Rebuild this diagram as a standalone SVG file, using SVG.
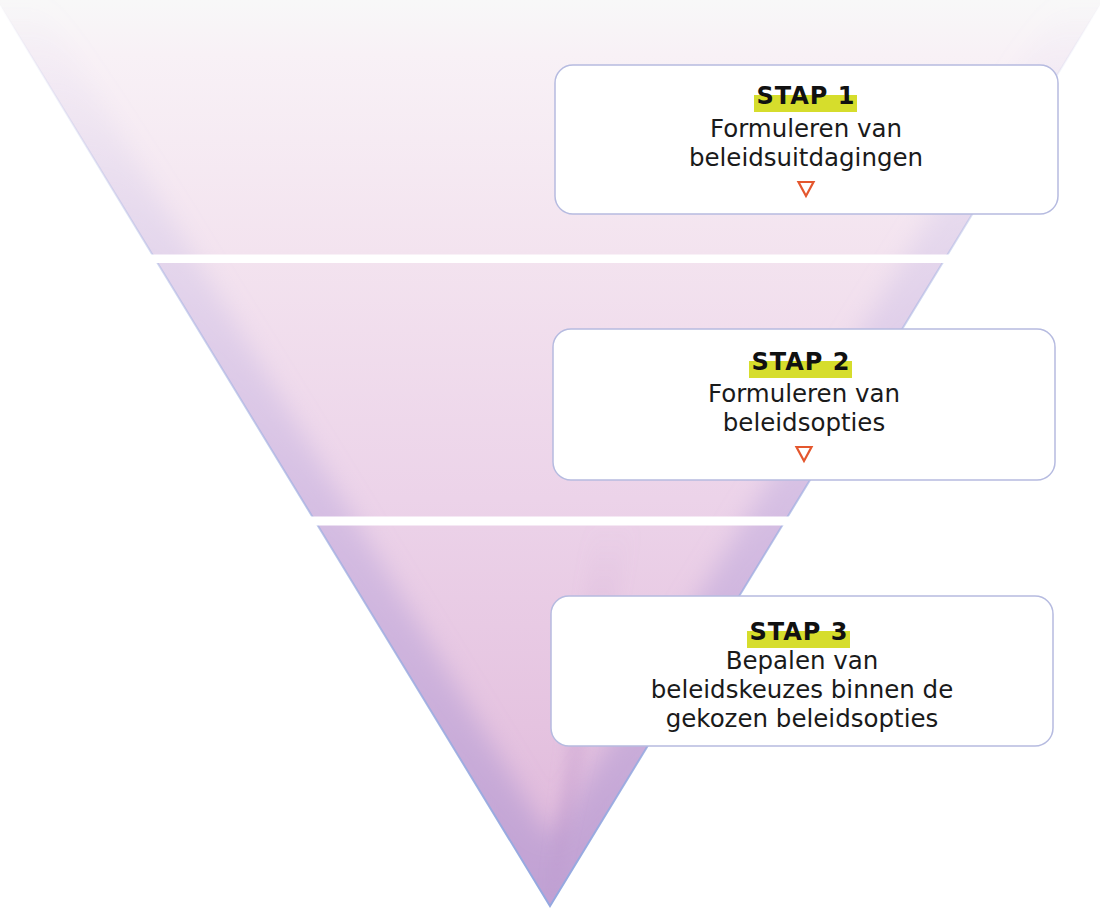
<svg xmlns="http://www.w3.org/2000/svg" width="1100" height="909" viewBox="0 0 1100 909">
  <style>
    .box { fill: #ffffff; stroke: #b6bbe0; stroke-width: 1.5; }
    .hl { fill: #d6dd2c; }
    .stap { font-family: "DejaVu Sans", "Liberation Sans", sans-serif; font-weight: bold; font-size: 24px; letter-spacing: 1px; text-anchor: middle; fill: #111111; }
    .txt { font-family: "DejaVu Sans", "Liberation Sans", sans-serif; font-size: 24.5px; text-anchor: middle; fill: #1a1a1a; }
    .arr { fill: none; stroke: #e4572e; stroke-width: 2.2; stroke-linejoin: miter; }
  </style>
  <defs>
    <linearGradient id="vg" gradientUnits="userSpaceOnUse" x1="0" y1="0" x2="0" y2="906">
      <stop offset="0" stop-color="#f8f8f8"/>
      <stop offset="0.06" stop-color="#f8f1f6"/>
      <stop offset="0.28" stop-color="#f3e3ef"/>
      <stop offset="0.55" stop-color="#ecd3e9"/>
      <stop offset="0.8" stop-color="#e5c3e0"/>
      <stop offset="1" stop-color="#ddb4d9"/>
    </linearGradient>
    <linearGradient id="edgeG" gradientUnits="userSpaceOnUse" x1="0" y1="0" x2="0" y2="906">
      <stop offset="0" stop-color="#d0c8ec" stop-opacity="0"/>
      <stop offset="0.25" stop-color="#ccc2e8" stop-opacity="0.35"/>
      <stop offset="0.6" stop-color="#c0aadc" stop-opacity="0.55"/>
      <stop offset="1" stop-color="#b498d0" stop-opacity="0.7"/>
    </linearGradient>
    <linearGradient id="lineG" gradientUnits="userSpaceOnUse" x1="0" y1="0" x2="0" y2="906">
      <stop offset="0" stop-color="#a4b2e2" stop-opacity="0"/>
      <stop offset="0.3" stop-color="#a4b2e2" stop-opacity="0.5"/>
      <stop offset="1" stop-color="#94a8e0" stop-opacity="1"/>
    </linearGradient>
    <linearGradient id="stripeG" gradientUnits="userSpaceOnUse" x1="0" y1="520" x2="0" y2="906">
      <stop offset="0" stop-color="#b890c8" stop-opacity="0"/>
      <stop offset="1" stop-color="#b890c8" stop-opacity="0.5"/>
    </linearGradient>
    <clipPath id="triClip">
      <path d="M -3 0 L 1103 0 L 550 906 Z"/>
    </clipPath>
    <filter id="blur" x="-20%" y="-20%" width="140%" height="140%">
      <feGaussianBlur stdDeviation="12"/>
    </filter>
    <filter id="blur2" x="-50%" y="-20%" width="200%" height="140%">
      <feGaussianBlur stdDeviation="7"/>
    </filter>
  </defs>

  <rect width="1100" height="909" fill="#ffffff"/>

  <g id="funnel">
    <path d="M -3 0 L 1103 0 L 550 906 Z" fill="url(#vg)"/>
    <g clip-path="url(#triClip)">
      <path d="M -3 0 L 550 906 L 1103 0" fill="none" stroke="url(#edgeG)" stroke-width="70" filter="url(#blur)"/>
      <path d="M 550 906 L 592 520 L 636 520 Z" fill="url(#stripeG)" filter="url(#blur2)"/>
    </g>
    <path d="M -3 0 L 550 906 L 1103 0" fill="none" stroke="url(#lineG)" stroke-width="2"/>
    <rect x="0" y="254.5" width="1100" height="8.5" fill="#ffffff"/>
    <rect x="0" y="516.5" width="1100" height="9" fill="#ffffff"/>
  </g>

  <g id="step1">
    <rect class="box" x="555" y="65" width="503" height="149" rx="18"/>
    <rect class="hl" x="754" y="95" width="103" height="17"/>
    <text class="stap" x="806" y="104">STAP 1</text>
    <text class="txt" x="806" y="137">Formuleren van</text>
    <text class="txt" x="806" y="166">beleidsuitdagingen</text>
    <path class="arr" d="M 798.5 182 L 813.5 182 L 806 196 Z"/>
  </g>

  <g id="step2">
    <rect class="box" x="553" y="329" width="502" height="151" rx="18"/>
    <rect class="hl" x="749" y="361" width="103" height="17"/>
    <text class="stap" x="801" y="370">STAP 2</text>
    <text class="txt" x="804" y="402">Formuleren van</text>
    <text class="txt" x="804" y="431">beleidsopties</text>
    <path class="arr" d="M 796.5 447 L 811.5 447 L 804 461 Z"/>
  </g>

  <g id="step3">
    <rect class="box" x="551" y="596" width="502" height="150" rx="18"/>
    <rect class="hl" x="747" y="631" width="103" height="17"/>
    <text class="stap" x="799" y="640">STAP 3</text>
    <text class="txt" x="802" y="669">Bepalen van</text>
    <text class="txt" x="802" y="698">beleidskeuzes binnen de</text>
    <text class="txt" x="802" y="727">gekozen beleidsopties</text>
  </g>
</svg>
